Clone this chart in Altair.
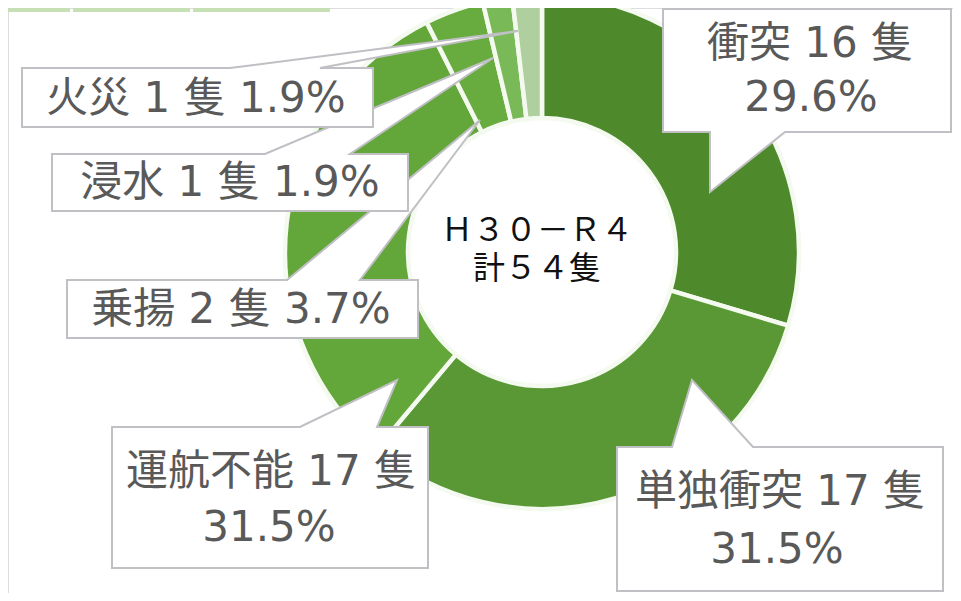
import altair as alt
import pandas as pd

# ---- data ----
categories = ["衝突", "単独衝突", "運航不能", "乗揚", "浸水", "火災"]
counts = [16, 17, 17, 2, 1, 1]
percents = ["29.6%", "31.5%", "31.5%", "3.7%", "1.9%", "1.9%"]
unit = "隻"
two_line = [True, True, True, False, False, False]
center_lines = ["Ｈ３０－Ｒ４", "計５４隻"]

# ---- styles / layout ----
colors = ["#4e8a2b", "#5a9835", "#63a63a", "#68ac3f", "#7ab957", "#afcf9f"]
W, H = 945, 585
CX, CY = 534, 244
R_OUT, R_IN = 257, 134
FONT = "DejaVu Sans, Noto Sans CJK JP"
CJK = "Noto Sans CJK JP"
LABEL_COLOR = "#595959"
BORDER = "#bfbfc4"

# callout geometry: box (x0, y0, x1, y1), pointer side, pointer base a..b, tip
callouts = {
    "衝突": ((655, 1, 943, 124), "bottom", 702, 777, (702, 184)),
    "単独衝突": ((609, 439, 935, 583), "top", 664, 745, (684, 372)),
    "運航不能": ((104, 419, 420, 560), "top", 292, 369, (389, 372)),
    "乗揚": ((59, 272, 410, 330), "top", 279, 352, (472, 112)),
    "浸水": ((44, 146, 400, 203), "top", 257, 342, (485, 50)),
    "火災": ((14, 60, 365, 119), "top", 222, 312, (510, 23)),
}
# text anchor positions (line1, line2)
text_pos = {
    "衝突": ((802, 36), (803, 90)),
    "単独衝突": ((772, 484), (769, 542)),
    "運航不能": ((263, 464), (261, 520)),
    "乗揚": ((233, 302), None),
    "浸水": ((222, 175), None),
    "火災": ((188, 91), None),
}
center_pos = (529, 223)
strip_cells = [(0, 62), (65, 182), (185, 322)]


def callout_path(box, side, a, b, tip):
    x0, y0, x1, y1 = box
    tx, ty = tip
    if side == "top":
        pts = [(x0, y0), (a, y0), (tx, ty), (b, y0), (x1, y0), (x1, y1), (x0, y1)]
    else:
        pts = [(x0, y0), (x1, y0), (x1, y1), (b, y1), (tx, ty), (a, y1), (x0, y1)]
    return "M" + " L".join(f"{px},{py}" for px, py in pts) + " Z"


df = pd.DataFrame({
    "category": categories,
    "count": counts,
    "percent": percents,
    "order": list(range(len(categories))),
})

layers = []

# top strip (fragment of table above)
strip_df = pd.DataFrame({"x0": [c[0] for c in strip_cells], "x1": [c[1] for c in strip_cells]})
layers.append(
    alt.Chart(strip_df).mark_rect(color="#c6dfb5").encode(
        x=alt.X("x0:Q", scale=None), x2="x1:Q", y=alt.value(0), y2=alt.value(4)
    )
)

donut = alt.Chart(df).mark_arc(
    outerRadius=R_OUT, innerRadius=R_IN, stroke="#f4faef", strokeWidth=4.5
).encode(
    theta=alt.Theta("count:Q", stack=True),
    order=alt.Order("order:Q"),
    color=alt.Color("category:N", scale=alt.Scale(domain=categories, range=colors), legend=None),
    x=alt.value(CX),
    y=alt.value(CY),
)
layers.append(donut)

draw_order = ["衝突", "単独衝突", "運航不能", "乗揚", "浸水", "火災"]
for cat in draw_order:
    box, side, a, b, tip = callouts[cat]
    path = callout_path(box, side, a, b, tip)
    layers.append(
        alt.Chart(df[df.category == cat]).mark_point(
            shape=path, size=4, filled=True, fill="white", stroke=BORDER,
            strokeWidth=2, opacity=1, fillOpacity=1, strokeJoin="miter"
        ).encode(x=alt.value(0), y=alt.value(0))
    )

for i, cat in enumerate(categories):
    row = df[df.category == cat].copy()
    p1, p2 = text_pos[cat]
    if two_line[i]:
        row["line1"] = f"{cat} {counts[i]} {unit}"
        row["line2"] = percents[i]
        layers.append(
            alt.Chart(row).mark_text(font=FONT, fontSize=42, color=LABEL_COLOR,
                                     align="center", baseline="middle").encode(
                x=alt.value(p1[0]), y=alt.value(p1[1]), text="line1:N")
        )
        layers.append(
            alt.Chart(row).mark_text(font=FONT, fontSize=42, color=LABEL_COLOR,
                                     align="center", baseline="middle").encode(
                x=alt.value(p2[0]), y=alt.value(p2[1]), text="line2:N")
        )
    else:
        row["line1"] = f"{cat} {counts[i]} {unit} {percents[i]}"
        layers.append(
            alt.Chart(row).mark_text(font=FONT, fontSize=42, color=LABEL_COLOR,
                                     align="center", baseline="middle").encode(
                x=alt.value(p1[0]), y=alt.value(p1[1]), text="line1:N")
        )

center_df = pd.DataFrame({"t": ["\n".join(center_lines)]})
layers.append(
    alt.Chart(center_df).mark_text(
        font=CJK, fontSize=32, color="#111111", align="center", baseline="middle",
        lineBreak="\n", lineHeight=38
    ).encode(x=alt.value(center_pos[0]), y=alt.value(center_pos[1]), text="t:N")
)

chart = alt.layer(*layers).properties(
    width=W, height=H, autosize=alt.AutoSizeParams(type="none"), padding=0
).configure_view(stroke=None).configure(background="white")

chart.save("out.html", embed_options={"renderer": "svg", "actions": False})
